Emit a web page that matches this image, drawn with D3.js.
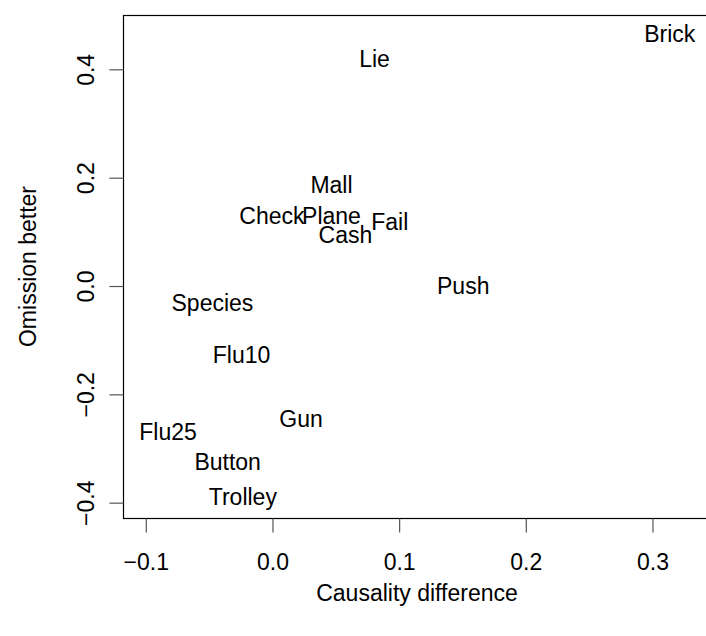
<!DOCTYPE html>
<html>
<head>
<meta charset="utf-8">
<script src="https://cdn.jsdelivr.net/npm/d3@7"></script>
<style>
  body { margin: 0; background: #fff; }
  svg { display: block; }
  text { font-family: "Liberation Sans", Arial, Helvetica, sans-serif; fill: #000; }
</style>
</head>
<body>
<svg width="706" height="636"></svg>
<script>
// scenario labels and their two scores
const labels = ['Brick', 'Lie', 'Mall', 'Check', 'Plane', 'Fail', 'Cash', 'Push',
                'Species', 'Flu10', 'Gun', 'Flu25', 'Button', 'Trolley'];
const causality = [0.314, 0.081, 0.047, 0.000, 0.047, 0.093, 0.058, 0.151,
                   -0.047, -0.024, 0.023, -0.082, -0.035, -0.023];
const omission = [0.464, 0.418, 0.186, 0.128, 0.128, 0.117, 0.093, 0.000,
                  -0.032, -0.127, -0.245, -0.269, -0.325, -0.390];

const xTicks = [-0.1, 0.0, 0.1, 0.2, 0.3];
const yTicks = [-0.4, -0.2, 0.0, 0.2, 0.4];
const xLim = [-0.1176, 0.3466];
const yLim = [-0.4292, 0.4994];

const margin = {top: 15, right: -5, bottom: 118, left: 123};
const width = 706, height = 636;

const svg = d3.select('svg');

const x = d3.scaleLinear().domain(xLim).range([margin.left, width - margin.right]);
const y = d3.scaleLinear().domain(yLim).range([height - margin.bottom, margin.top]);

const fmt = v => (v < 0 ? '\u2212' : '') + d3.format('.1f')(Math.abs(v));

// plot box
svg.append('rect')
  .attr('x', margin.left + 0.5)
  .attr('y', margin.top + 0.5)
  .attr('width', x.range()[1] - x.range()[0])
  .attr('height', y.range()[0] - y.range()[1])
  .attr('fill', 'none')
  .attr('stroke', '#000')
  .attr('stroke-width', 1.2);

// x axis
const xAxis = svg.append('g')
  .attr('transform', `translate(0.5,${y.range()[0] + 0.5})`)
  .call(d3.axisBottom(x).tickValues(xTicks).tickFormat(fmt).tickSize(14).tickPadding(21));
xAxis.select('.domain').remove();
xAxis.selectAll('line').attr('stroke', '#555').attr('stroke-width', 1.2);
xAxis.selectAll('text').attr('font-size', 23).attr('fill', '#000')
  .style('font-family', '"Liberation Sans", Arial, sans-serif');

// y axis (labels rotated, R style)
const yAxis = svg.append('g')
  .attr('transform', `translate(${x.range()[0] + 0.5},0.5)`)
  .call(d3.axisLeft(y).tickValues(yTicks).tickFormat(fmt).tickSize(14));
yAxis.select('.domain').remove();
yAxis.selectAll('line').attr('stroke', '#555').attr('stroke-width', 1.2);
yAxis.selectAll('text').remove();
yAxis.selectAll('.tick').append('text')
  .attr('transform', 'translate(-30,0) rotate(-90)')
  .attr('text-anchor', 'middle')
  .attr('font-size', 23)
  .text(fmt);

// axis titles
svg.append('text')
  .attr('x', (x.range()[0] + x.range()[1]) / 2)
  .attr('y', 601)
  .attr('text-anchor', 'middle')
  .attr('font-size', 23)
  .text('Causality difference');

svg.append('text')
  .attr('transform', `translate(36,${(y.range()[0] + y.range()[1]) / 2}) rotate(-90)`)
  .attr('text-anchor', 'middle')
  .attr('font-size', 23)
  .text('Omission better');

// point labels
svg.append('g')
  .selectAll('text')
  .data(labels)
  .enter().append('text')
  .attr('x', (d, i) => x(causality[i]))
  .attr('y', (d, i) => y(omission[i]))
  .attr('dy', '0.36em')
  .attr('text-anchor', 'middle')
  .attr('font-size', 23)
  .text(d => d);
</script>
</body>
</html>
